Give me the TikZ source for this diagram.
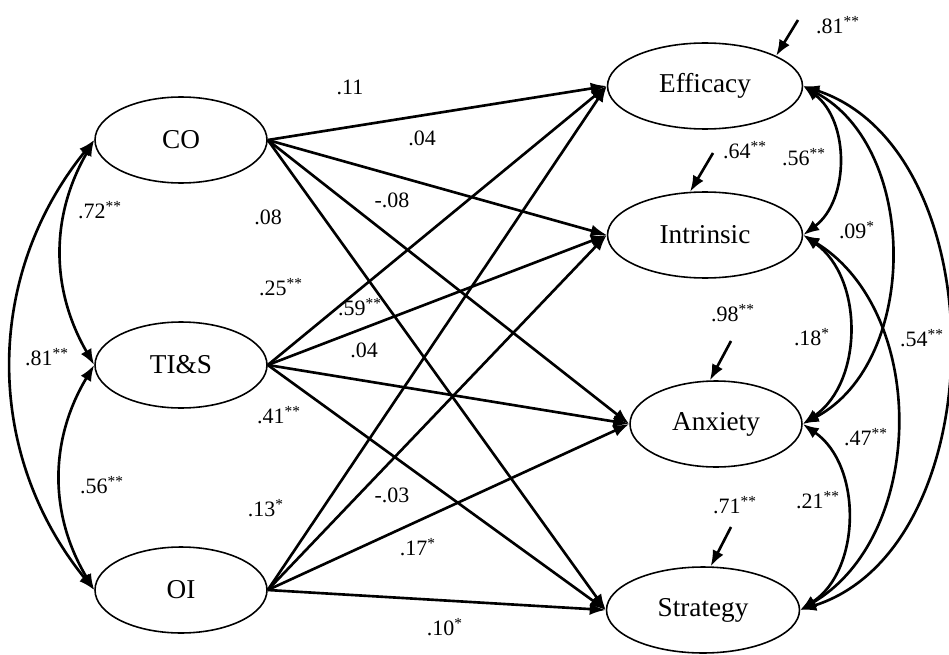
\documentclass[tikz,border=0pt]{standalone}
\usepackage{fontspec}
\setmainfont{Liberation Serif}
\usetikzlibrary{arrows.meta,shapes.geometric}

\begin{document}
\begin{tikzpicture}[x=0.02cm, y=-0.02cm,
    latent/.style={draw, ellipse, line width=0.9pt, inner sep=0pt, minimum height=1.72cm, font=\fontsize{15.5}{18}\selectfont},
    path/.style={line width=1.5pt, -{Latex[length=3.2mm,width=2.4mm]}},
    cov/.style={line width=1.5pt, {Latex[length=3.2mm,width=2.4mm]}-{Latex[length=3.2mm,width=2.4mm]}},
    coef/.style={font=\fontsize{12.5}{14}\selectfont, inner sep=0pt}]
    \useasboundingbox (0,0) rectangle (949,655);

    \node[latent, minimum width=3.44cm] (CO) at (181,140) {CO};
    \node[latent, minimum width=3.44cm] (TIS) at (181,365) {TI\&S};
    \node[latent, minimum width=3.44cm] (OI) at (181,590) {OI};

    \node[latent, minimum width=3.9cm] (Eff) at (705,86) {Efficacy};
    \node[latent, minimum width=3.9cm] (Int) at (705,235) {Intrinsic};
    \node[latent, minimum width=3.44cm] (Anx) at (716,424) {Anxiety};
    \node[latent, minimum width=3.86cm] (Str) at (703,610) {Strategy};

    \foreach \src in {CO,TIS,OI}
        \foreach \dst in {Eff,Int,Anx,Str}
            \draw[path] (\src.east) -- (\dst.west);

    \draw[cov] (CO.west) to[bend right=30] (TIS.west);
    \draw[cov] (TIS.west) to[bend right=31] (OI.west);
    \draw[cov] (CO.west) to[bend right=39] (OI.west);

    \draw[cov] (Eff.east) to[bend left=53] (Int.east);
    \draw[cov] (Eff.east) to[bend left=62] (Anx.east);
    \draw[cov] (Eff.east) to[bend left=72] (Str.east);
    \draw[cov] (Int.east) to[bend left=55] (Anx.east);
    \draw[cov] (Int.east) to[bend left=59] (Str.east);
    \draw[cov] (Anx.east) to[bend left=56] (Str.east);

    \coordinate (Eres) at (798,20);
    \coordinate (Ires) at (713,153);
    \coordinate (Ares) at (731,341);
    \coordinate (Sres) at (731,527);
    \draw[path] (Eres) -- (Eff.23);
    \draw[path] (Ires) -- (Int.109);
    \draw[path] (Ares) -- (Anx.98);
    \draw[path] (Sres) -- (Str.80);

    \node[coef] (rEff) at (838,25) {.81\textsuperscript{**}};
    \node[coef] (rInt) at (745,150) {.64\textsuperscript{**}};
    \node[coef] (rAnx) at (733,313) {.98\textsuperscript{**}};
    \node[coef] (rStr) at (735,505) {.71\textsuperscript{**}};

    \node[coef] (cCOTIS) at (100,210) {.72\textsuperscript{**}};
    \node[coef] (cTISOI) at (102,485) {.56\textsuperscript{**}};
    \node[coef] (cCOOI) at (47,357) {.81\textsuperscript{**}};

    \node[coef] (bCOEff) at (350,87) {.11};
    \node[coef] (bCOInt) at (422,138) {.04};
    \node[coef] (bCOAnx) at (392,200) {-.08};
    \node[coef] (bCOStr) at (268,217) {.08};
    \node[coef] (bTISEff) at (281,287) {.25\textsuperscript{**}};
    \node[coef] (bTISInt) at (360,307) {.59\textsuperscript{**}};
    \node[coef] (bTISAnx) at (364,350) {.04};
    \node[coef] (bTISStr) at (279,415) {.41\textsuperscript{**}};
    \node[coef] (bOIEff) at (266,508) {.13\textsuperscript{*}};
    \node[coef] (bOIInt) at (392,495) {-.03};
    \node[coef] (bOIAnx) at (418,547) {.17\textsuperscript{*}};
    \node[coef] (bOIStr) at (445,627) {.10\textsuperscript{*}};

    \node[coef] (cEffInt) at (804,157) {.56\textsuperscript{**}};
    \node[coef] (cEffAnx) at (857,230) {.09\textsuperscript{*}};
    \node[coef] (cEffStr) at (922,338) {.54\textsuperscript{**}};
    \node[coef] (cIntAnx) at (812,337) {.18\textsuperscript{*}};
    \node[coef] (cIntStr) at (866,437) {.47\textsuperscript{**}};
    \node[coef] (cAnxStr) at (818,500) {.21\textsuperscript{**}};
\end{tikzpicture}
\end{document}
